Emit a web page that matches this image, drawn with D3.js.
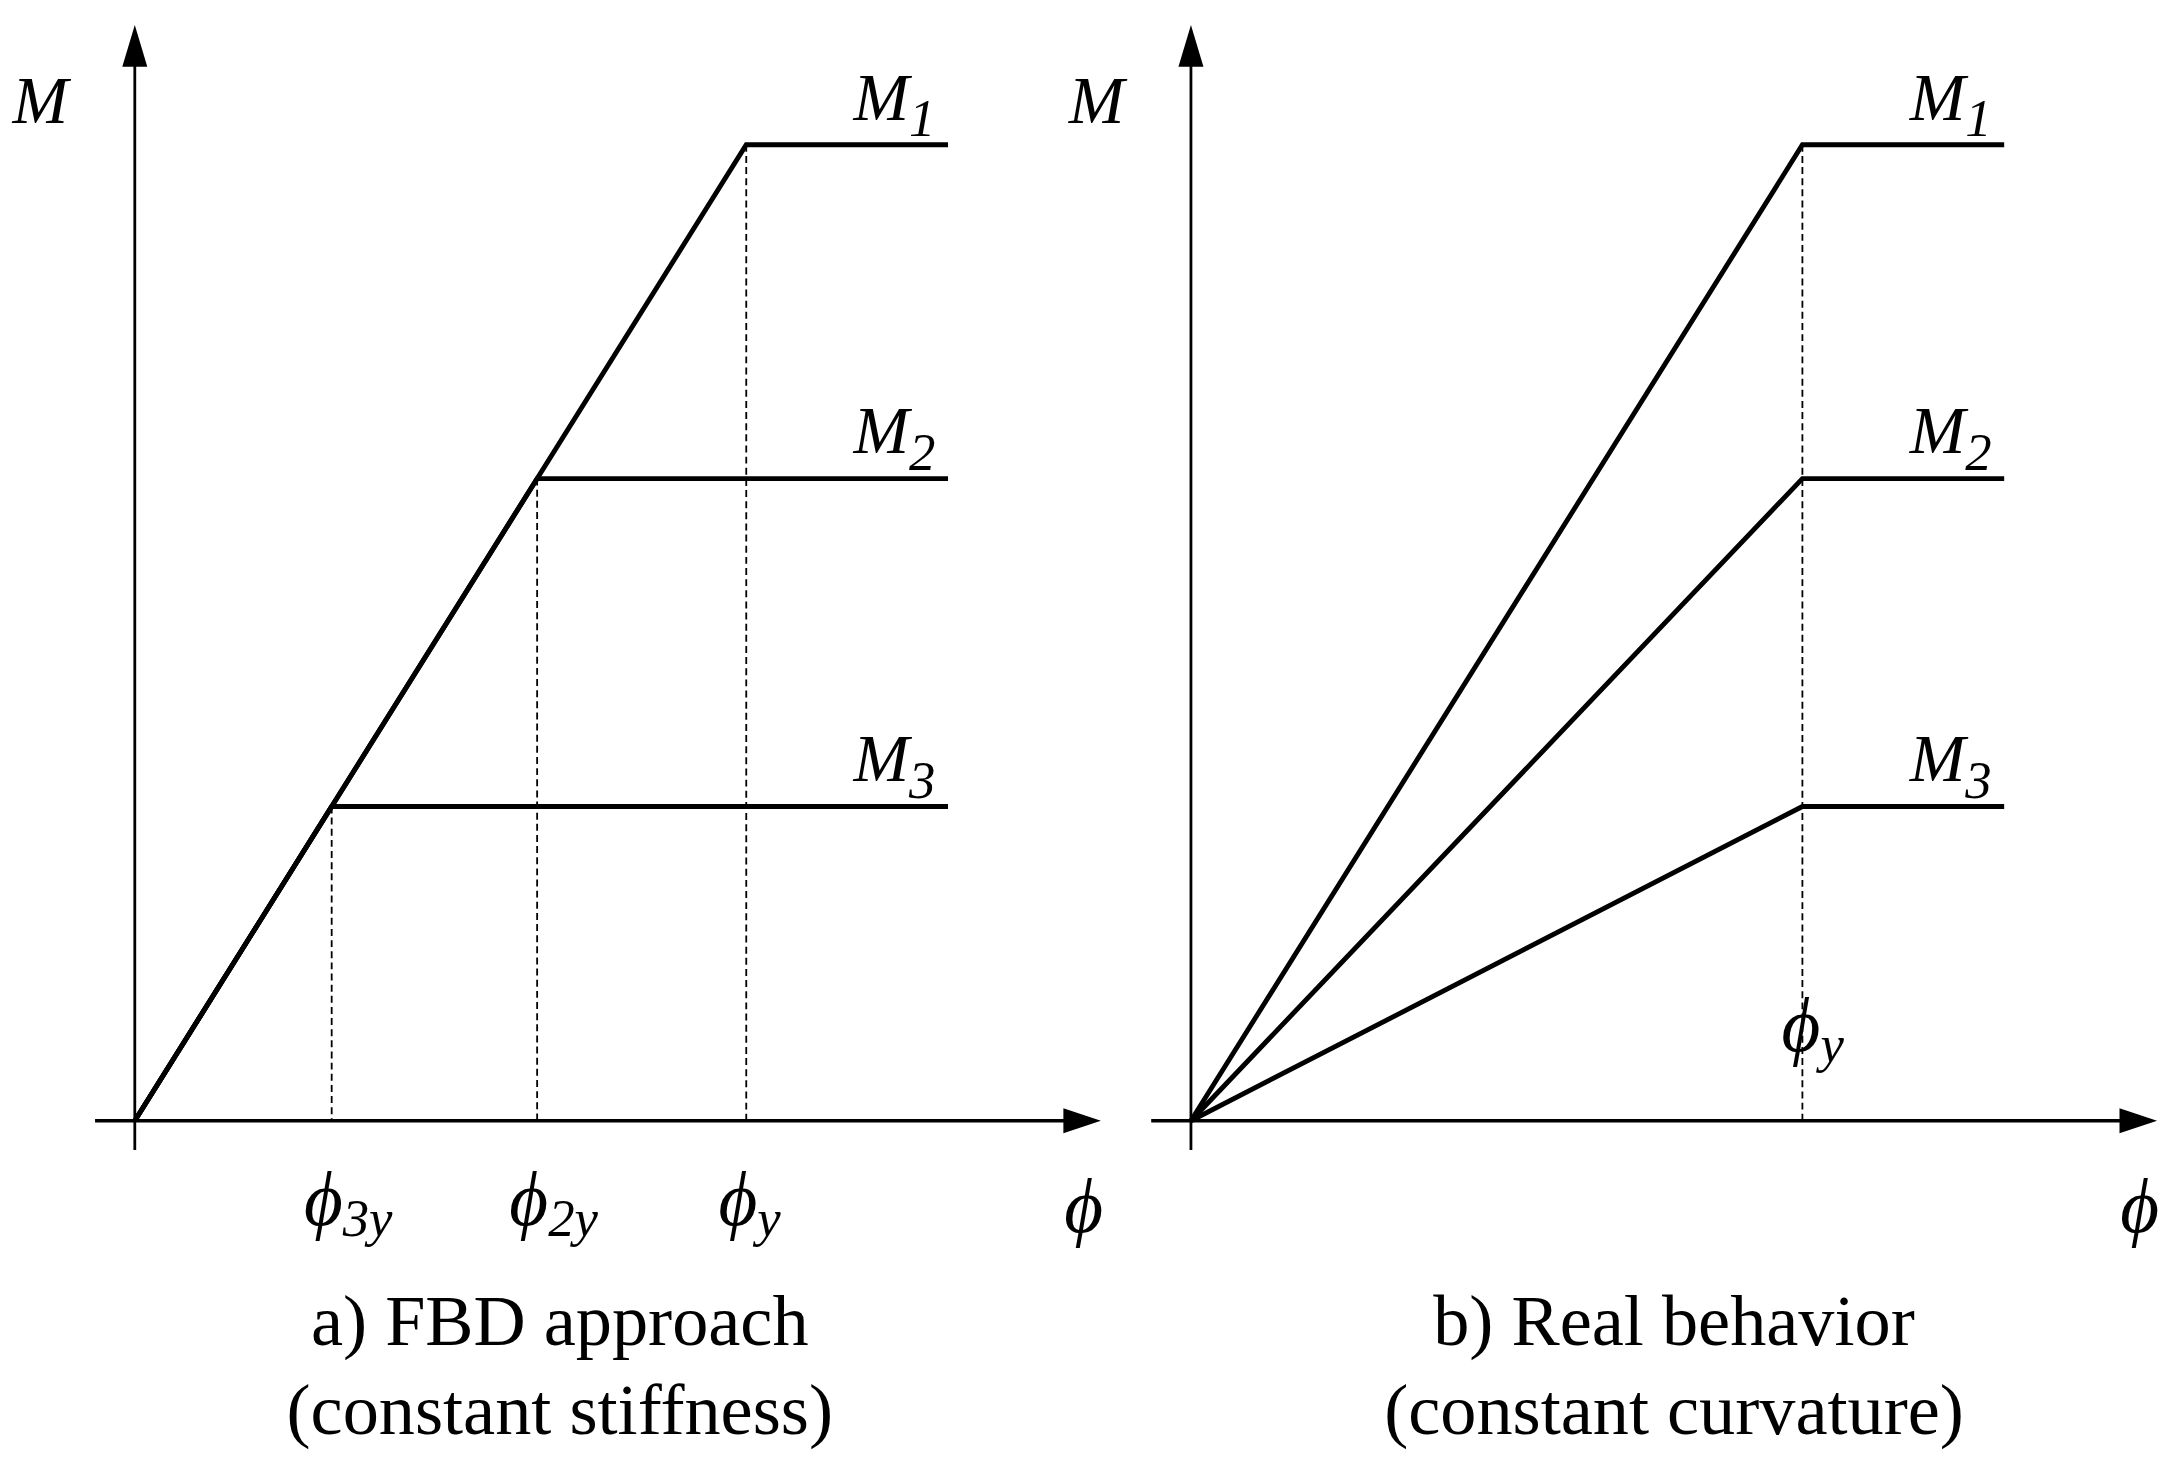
<!DOCTYPE html>
<html><head><meta charset="utf-8">
<script src="https://cdn.jsdelivr.net/npm/d3@7"></script>
<style>body{margin:0;background:#fff}</style>
</head><body>
<script>
// moment levels (relative to M1) and yield curvatures (relative to phi_y)
var momentLabels = ["1", "2", "3"];
var momentValues = [1.0, 0.658, 0.322];
var fbdYield = [1.0, 0.658, 0.322];      // a) constant stiffness
var fbdTicks = ["y", "2y", "3y"];
var realYield = [1.0, 1.0, 1.0];         // b) constant curvature
var plateauEnd = 1.33;

var W = 1568, H = 1053;
var svg = d3.select("body").append("svg")
    .attr("width", 2179).attr("height", 1466)
    .attr("viewBox", "0 0 " + W + " " + H)
    .attr("preserveAspectRatio", "none")
    .style("font-family", "'Liberation Serif', 'Times New Roman', serif");

function panel(ox, yieldArr, ticks, caption, capX) {
    var x = d3.scaleLinear().domain([0, 1]).range([ox, ox + 440]);
    var y = d3.scaleLinear().domain([0, 1]).range([805, 104]);
    var g = svg.append("g");
    var tip = x(1.58);

    // axes
    g.append("line").attr("x1", x(-0.065)).attr("x2", tip - 20).attr("y1", y(0)).attr("y2", y(0))
        .attr("stroke", "#000").attr("stroke-width", 2.5);
    g.append("path").attr("d", "M" + (tip - 27) + "," + (y(0) - 9) + " L" + tip + "," + y(0) + " L" + (tip - 27) + "," + (y(0) + 9) + "Z");
    g.append("line").attr("x1", x(0)).attr("x2", x(0)).attr("y1", y(-0.03)).attr("y2", 45)
        .attr("stroke", "#000").attr("stroke-width", 2);
    g.append("path").attr("d", "M" + (x(0) - 9) + ",48 L" + x(0) + ",18 L" + (x(0) + 9) + ",48Z");

    // dashed guides
    yieldArr.forEach(function (p, i) {
        if (!ticks && i > 0) return;
        g.append("line").attr("x1", x(p)).attr("x2", x(p)).attr("y1", y(momentValues[i])).attr("y2", y(0))
            .attr("stroke", "#000").attr("stroke-width", 1.3).attr("stroke-dasharray", "5,3");
    });

    // curves
    var line = d3.line().x(function (d) { return x(d[0]); }).y(function (d) { return y(d[1]); });
    momentValues.forEach(function (m, i) {
        var p = yieldArr[i];
        g.append("path").attr("d", line([[0, 0], [p, m], [plateauEnd, m]]))
            .attr("fill", "none").attr("stroke", "#000").attr("stroke-width", 3.5);
        var t = g.append("text").attr("x", x(plateauEnd) - 68).attr("y", y(m) - 18)
            .attr("font-size", 48).attr("font-style", "italic").text("M");
        t.append("tspan").attr("font-size", 38).attr("dy", 12).text(momentLabels[i]);
    });

    g.append("text").attr("x", x(0) - 88).attr("y", 88).attr("font-size", 48).attr("font-style", "italic").text("M");
    g.append("text").attr("x", x(1.52)).attr("y", 885).attr("font-size", 54).attr("font-style", "italic").text("\u03D5");

    if (ticks) {
        yieldArr.forEach(function (p, i) {
            var t = g.append("text").attr("x", x(p) - 20).attr("y", 880).attr("font-size", 54).attr("font-style", "italic").text("\u03D5");
            t.append("tspan").attr("font-size", 38).attr("dy", 8).text(ticks[i]);
        });
    } else {
        var t = g.append("text").attr("x", x(1) - 15).attr("y", 755).attr("font-size", 54).attr("font-style", "italic").text("\u03D5");
        t.append("tspan").attr("font-size", 38).attr("dy", 8).text("y");
    }

    g.selectAll(".cap").data(caption).enter().append("text")
        .attr("x", x(capX)).attr("y", function (d, i) { return 966 + i * 64; })
        .attr("text-anchor", "middle").attr("font-size", 52).text(function (d) { return d; });
}

panel(97, fbdYield, fbdTicks, ["a) FBD approach", "(constant stiffness)"], 0.695);
panel(857, realYield, null, ["b) Real behavior", "(constant curvature)"], 0.79);
</script>
</body></html>
